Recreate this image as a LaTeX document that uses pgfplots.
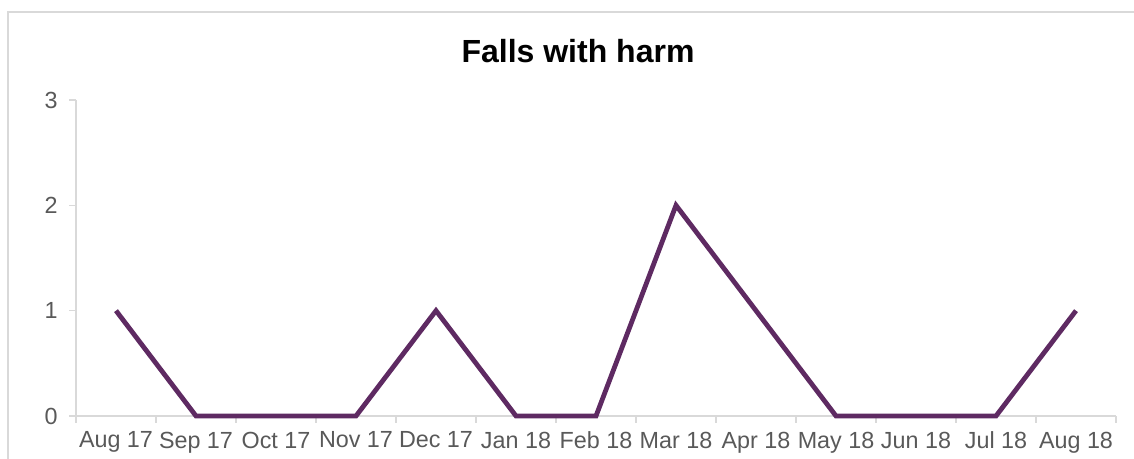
\documentclass[border=0pt]{standalone}
\usepackage{pgfplots}
\pgfplotsset{compat=1.18}
\usepackage{fontspec}
\setmainfont{Liberation Sans}
\definecolor{lineC}{HTML}{5E2A62}
\definecolor{axC}{HTML}{D9D9D9}
\definecolor{txC}{HTML}{595959}
\begin{document}
\begin{tikzpicture}[x=0.75pt,y=0.75pt]
% pixel coords relative to axis lower-left at (76,416)
\useasboundingbox (-76,-43) rectangle (1058,416);
\begin{scope}
\clip (-76,-43) rectangle (1058,416);
\draw[axC, line width=1.5pt] (-68,404) rectangle (1100,-80);
\end{scope}
\begin{axis}[
  at={(0,0)}, anchor=south west,
  scale only axis,
  width=780pt, height=237pt,
  xmin=-0.5, xmax=12.5, ymin=0, ymax=3,
  axis x line*=bottom, axis y line*=left,
  axis line style={axC, line width=1pt, -},
  xtick={0,...,12},
  xticklabels={Aug 17,Sep 17,Oct 17,Nov 17,Dec 17,Jan 18,Feb 18,Mar 18,Apr 18,May 18,Jun 18,Jul 18,Aug 18},
  major x tick style={draw=none},
  minor xtick={-0.5,0.5,...,12.5},
  minor tick length=5.25pt,
  x tick style={axC, line width=1pt},
  ytick={0,1,2,3},
  y tick style={axC, line width=1pt},
  major tick length=5.25pt,
  tick align=outside,
  x tick label style={font=\fontsize{17.5}{20}\selectfont, text=txC, yshift=-3pt},
  y tick label style={font=\fontsize{17.5}{20}\selectfont, text=txC, xshift=-5pt},
  /pgf/number format/assume math mode=true,
  clip=false,
]
\addplot[lineC, line width=3.6pt, line join=miter] coordinates {
(0,1) (1,0) (2,0) (3,0) (4,1) (5,0) (6,0) (7,2) (8,1) (9,0) (10,0) (11,0) (12,1)
};
\end{axis}
\node[font=\fontsize{24}{28}\bfseries\selectfont, anchor=center] at (502,365) {Falls with harm};
\end{tikzpicture}
\end{document}
